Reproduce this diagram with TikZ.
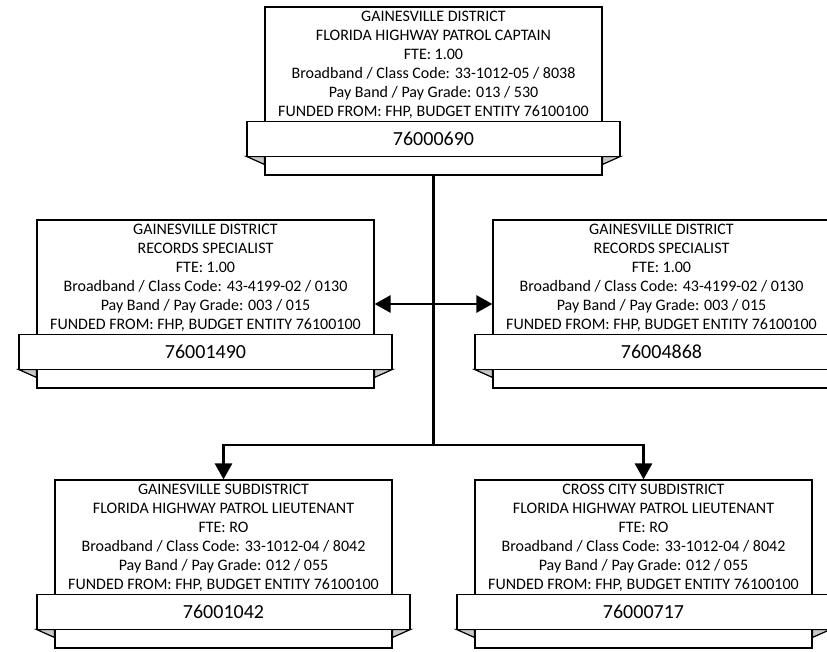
\documentclass[tikz,border=0pt]{standalone}
\usepackage{fontspec}
\setmainfont{Carlito}
\usetikzlibrary{calc,arrows.meta}

\definecolor{foldgray}{RGB}{200,200,200}

\tikzset{
  mainbox/.style={draw, fill=white, line width=1.2pt, minimum width=337pt,
    minimum height=168pt, inner sep=0pt, anchor=center},
  bodytext/.style={align=center, inner sep=0pt,
    font=\fontsize{16}{19}\selectfont},
  ribbon/.style={draw, fill=white, line width=1.2pt, minimum width=373pt,
    minimum height=35pt, inner sep=0pt, font=\fontsize{20}{22}\selectfont},
  fold/.style={draw, fill=foldgray, line width=1.2pt, line join=miter},
  link/.style={line width=2.8pt},
  tip/.style={-{Triangle[length=16pt,width=17pt]}, line width=2.8pt},
}

% one position box: back card, title text, folded number ribbon
\newcommand\posbox[4]{%
  \node[mainbox] (#1) at #2 {};
  \node[bodytext] (#1-txt) at ($(#1.north)+(0,58.5)$) {#3};
  \draw[fold] ($(#1.north west)+(-18,150)$) -- ($(#1.north west)+(0,158)$)
    -- ($(#1.north west)+(0,150)$) -- cycle;
  \draw[fold] ($(#1.north east)+(18,150)$) -- ($(#1.north east)+(0,158)$)
    -- ($(#1.north east)+(0,150)$) -- cycle;
  \node[ribbon] (#1-id) at ($(#1.north)+(0,132.5)$) {#4};
}

\begin{document}
\begin{tikzpicture}[x=1pt,y=-1pt]
\useasboundingbox (0,0) rectangle (827,651);

\posbox{cap}{(433.5,91)}{GAINESVILLE DISTRICT\\FLORIDA HIGHWAY PATROL CAPTAIN\\FTE: 1.00\\Broadband / Class Code: 33-1012-05 / 8038\\Pay Band / Pay Grade: 013 / 530\\FUNDED FROM: FHP, BUDGET ENTITY 76100100}{76000690}

\posbox{recl}{(205.5,304)}{GAINESVILLE DISTRICT\\RECORDS SPECIALIST\\FTE: 1.00\\Broadband / Class Code: 43-4199-02 / 0130\\Pay Band / Pay Grade: 003 / 015\\FUNDED FROM: FHP, BUDGET ENTITY 76100100}{76001490}

\posbox{recr}{(661.5,304)}{GAINESVILLE DISTRICT\\RECORDS SPECIALIST\\FTE: 1.00\\Broadband / Class Code: 43-4199-02 / 0130\\Pay Band / Pay Grade: 003 / 015\\FUNDED FROM: FHP, BUDGET ENTITY 76100100}{76004868}

\posbox{ltg}{(223.5,564)}{GAINESVILLE SUBDISTRICT\\FLORIDA HIGHWAY PATROL LIEUTENANT\\FTE: RO\\Broadband / Class Code: 33-1012-04 / 8042\\Pay Band / Pay Grade: 012 / 055\\FUNDED FROM: FHP, BUDGET ENTITY 76100100}{76001042}

\posbox{ltc}{(643.5,564)}{CROSS CITY SUBDISTRICT\\FLORIDA HIGHWAY PATROL LIEUTENANT\\FTE: RO\\Broadband / Class Code: 33-1012-04 / 8042\\Pay Band / Pay Grade: 012 / 055\\FUNDED FROM: FHP, BUDGET ENTITY 76100100}{76000717}

% reporting lines
\coordinate (hub) at (433.5,445);
\draw[link] (cap.south) -- (hub);
\draw[tip, {Triangle[length=16pt,width=17pt]}-{Triangle[length=16pt,width=17pt]}] (recl.east) -- (recr.west);
\draw[tip] (hub) -| (ltg.north);
\draw[tip] (hub) -| (ltc.north);
\end{tikzpicture}
\end{document}
